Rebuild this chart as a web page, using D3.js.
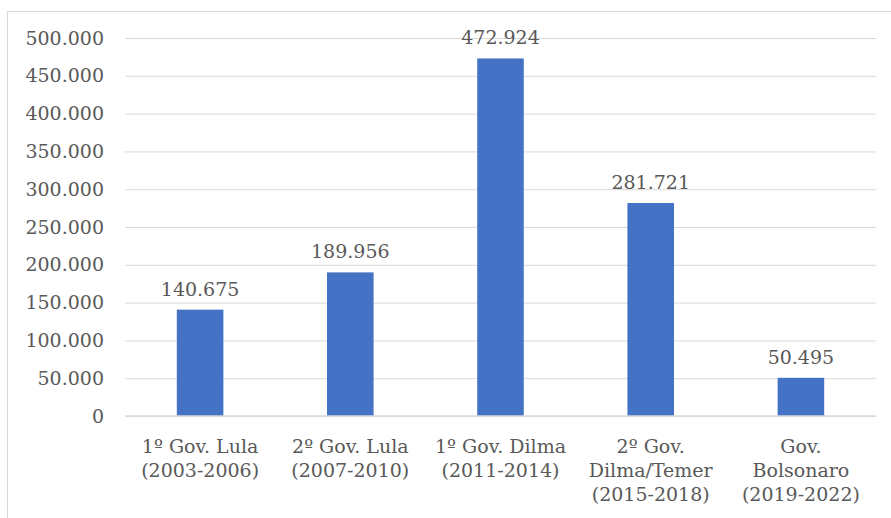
<!DOCTYPE html>
<html>
<head>
<meta charset="utf-8">
<script src="https://cdn.jsdelivr.net/npm/d3@7/dist/d3.min.js"></script>
<style>
  html, body { margin: 0; padding: 0; background: #ffffff; }
  svg { display: block; }
  text { font-family: "DejaVu Serif", "Liberation Serif", serif; fill: #595959; }
</style>
</head>
<body>
<svg id="chart" width="891" height="518"></svg>
<script>
// Governments (label lines) and number of units per term
const categories = [
  ["1º Gov. Lula", "(2003-2006)"],
  ["2º Gov. Lula", "(2007-2010)"],
  ["1º Gov. Dilma", "(2011-2014)"],
  ["2º Gov.", "Dilma/Temer", "(2015-2018)"],
  ["Gov.", "Bolsonaro", "(2019-2022)"]
];
const values = [140675, 189956, 472924, 281721, 50495];
const yTicks = [0, 50000, 100000, 150000, 200000, 250000, 300000, 350000, 400000, 450000, 500000];

const fmt = d => d3.format(",")(d).replace(/,/g, ".");

const svg = d3.select("#chart");
const W = 891, H = 518;
const margin = { left: 125, right: 15, top: 38, bottom: 102 };
const plotW = W - margin.left - margin.right;
const plotH = H - margin.top - margin.bottom;

// Outer frame
svg.append("rect")
  .attr("x", 7.5).attr("y", 11.5)
  .attr("width", W).attr("height", H)
  .attr("fill", "none").attr("stroke", "#d9d9d9").attr("stroke-width", 1);

const g = svg.append("g").attr("transform", `translate(${margin.left},${margin.top})`);

const x = d3.scaleBand()
  .domain(categories.map((c, i) => i))
  .range([0, plotW])
  .paddingInner(0.69)
  .paddingOuter(0.345);

const y = d3.scaleLinear().domain([0, 500000]).range([plotH, 0]);

// Gridlines and y tick labels
const yAxis = d3.axisLeft(y).tickValues(yTicks).tickSize(-plotW).tickPadding(21).tickFormat(fmt);
const ya = g.append("g").call(yAxis);
ya.select(".domain").remove();
ya.selectAll(".tick line").attr("stroke", "#d9d9d9").attr("stroke-width", 1);
ya.selectAll(".tick text")
  .attr("font-size", 19)
  .style("font-family", '"DejaVu Serif", serif')
  .attr("fill", "#595959");

// Bars
g.selectAll("rect.bar")
  .data(values)
  .join("rect")
  .attr("class", "bar")
  .attr("x", (d, i) => x(i))
  .attr("width", x.bandwidth())
  .attr("y", d => y(d))
  .attr("height", d => plotH - y(d))
  .attr("fill", "#4472c4");

// Value labels above bars
g.selectAll("text.val")
  .data(values)
  .join("text")
  .attr("class", "val")
  .attr("x", (d, i) => x(i) + x.bandwidth() / 2)
  .attr("y", d => y(d) - 14)
  .attr("text-anchor", "middle")
  .attr("font-size", 19)
  .text(d => fmt(d));

// Baseline
g.append("line")
  .attr("x1", 0).attr("x2", plotW)
  .attr("y1", plotH).attr("y2", plotH)
  .attr("stroke", "#d9d9d9").attr("stroke-width", 1.5);

// Category labels
const cat = g.selectAll("text.cat")
  .data(categories)
  .join("text")
  .attr("class", "cat")
  .attr("text-anchor", "middle")
  .attr("font-size", 19)
  .attr("transform", (d, i) => `translate(${x(i) + x.bandwidth() / 2},${plotH + 37})`);
cat.selectAll("tspan")
  .data(d => d)
  .join("tspan")
  .attr("x", 0)
  .attr("dy", (d, j) => j === 0 ? 0 : 24)
  .text(d => d);
</script>
</body>
</html>
